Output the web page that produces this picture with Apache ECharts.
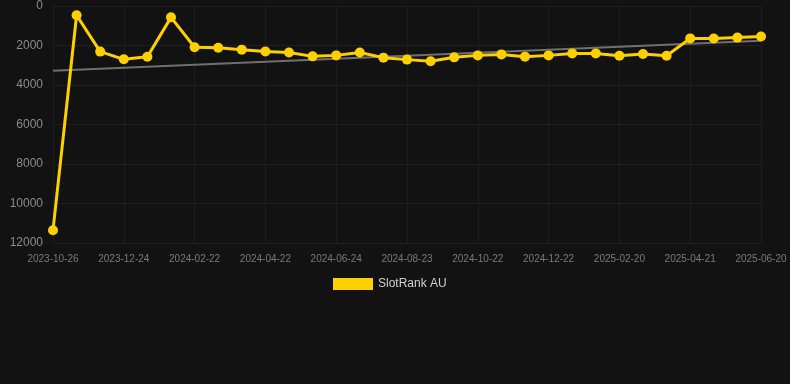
<!DOCTYPE html>
<html>
<head>
<meta charset="utf-8">
<script src="https://cdn.jsdelivr.net/npm/echarts@6/dist/echarts.min.js"></script>
<style>
html,body{margin:0;padding:0;background:#121212;}
#chart{width:790px;height:384px;}
</style>
</head>
<body>
<div id="chart"></div>
<script>
var categories = [
  '2023-10-26','2023-11-15','2023-12-05','2023-12-24','2024-01-13','2024-02-02',
  '2024-02-22','2024-03-13','2024-04-02','2024-04-22','2024-05-13','2024-06-03',
  '2024-06-24','2024-07-14','2024-08-03','2024-08-23','2024-09-12','2024-10-02',
  '2024-10-22','2024-11-11','2024-12-01','2024-12-22','2025-01-11','2025-01-31',
  '2025-02-20','2025-03-12','2025-04-01','2025-04-21','2025-05-11','2025-05-31',
  '2025-06-20'
];
var rankValues = [
  11350, 470, 2310, 2700, 2570, 575,
  2090, 2110, 2210, 2300, 2350, 2550,
  2500, 2350, 2615, 2715, 2800, 2600,
  2500, 2450, 2565, 2500, 2400, 2400,
  2515, 2430, 2515, 1640, 1650, 1600,
  1540
];
var trendValues = [3275, 1755];
var seriesName = 'SlotRank AU';
var yTicks = [0, 2000, 4000, 6000, 8000, 10000, 12000];

var chart = echarts.init(document.getElementById('chart'));
chart.setOption({
  backgroundColor: '#121212',
  animation: false,
  grid: {left: 53, right: 29, top: 6, bottom: 141, containLabel: false},
  legend: {
    data: [seriesName],
    top: 278,
    left: 333,
    padding: 0,
    icon: 'rect',
    itemWidth: 40,
    itemHeight: 12,
    itemGap: 10,
    textStyle: {color: '#d0d0d0', fontSize: 12, fontFamily: 'Liberation Sans, Arial, sans-serif'}
  },
  xAxis: {
    type: 'category',
    data: categories,
    boundaryGap: false,
    axisLine: {show: false},
    axisTick: {show: false},
    axisLabel: {interval: 2, color: '#7a7a7a', fontSize: 10, margin: 11, fontFamily: 'Liberation Sans, Arial, sans-serif'},
    splitLine: {show: true, interval: 2, lineStyle: {color: '#1d1d1d', width: 1}}
  },
  yAxis: {
    type: 'value',
    inverse: true,
    min: yTicks[0],
    max: yTicks[yTicks.length - 1],
    interval: 2000,
    axisLine: {show: false},
    axisTick: {show: false},
    axisLabel: {color: '#8c8c8c', fontSize: 12, margin: 10, fontFamily: 'Liberation Sans, Arial, sans-serif',
      formatter: function (v) { return String(v); }},
    splitLine: {show: true, lineStyle: {color: '#1f1f1f', width: 1}}
  },
  series: [
    {
      name: 'trend',
      type: 'line',
      data: [[categories[0], trendValues[0]], [categories[categories.length - 1], trendValues[1]]],
      symbol: 'none',
      lineStyle: {color: '#707070', width: 2},
      z: 1,
      silent: true
    },
    {
      name: seriesName,
      type: 'line',
      data: rankValues,
      symbol: 'circle',
      symbolSize: 10,
      lineStyle: {color: '#FFD000', width: 3},
      itemStyle: {color: '#FFD000'},
      z: 2
    }
  ]
});
</script>
</body>
</html>
